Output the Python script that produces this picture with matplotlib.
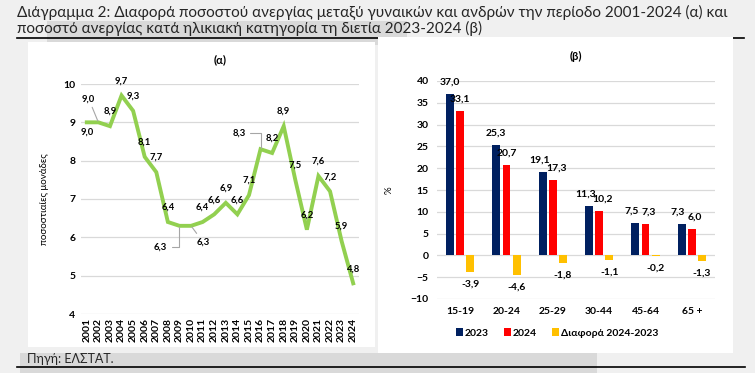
import matplotlib
matplotlib.use("Agg")
import matplotlib.pyplot as plt
from matplotlib.patches import Rectangle
from matplotlib.lines import Line2D
import numpy as np

plt.rcParams['font.family'] = ['Lato', 'DejaVu Sans']

# --- data (a): difference in unemployment rate women vs men, 2001-2024
years = [str(y) for y in range(2001, 2025)]
gap_values = [9.0, 9.0, 8.9, 9.7, 9.3, 8.1, 7.7, 6.4, 6.3, 6.3, 6.4, 6.6,
              6.9, 6.6, 7.1, 8.3, 8.2, 8.9, 7.5, 6.2, 7.6, 7.2, 5.9, 4.8]

# --- data (b): unemployment rate by age group
age_groups = ['15-19', '20-24', '25-29', '30-44', '45-64', '65 +']
rate_2023 = [37.0, 25.3, 19.1, 11.3, 7.5, 7.3]
rate_2024 = [33.1, 20.7, 17.3, 10.2, 7.3, 6.0]
rate_diff = [-3.9, -4.6, -1.8, -1.1, -0.2, -1.3]

W, H = 755, 373
fig = plt.figure(figsize=(W / 100, H / 100), dpi=100, facecolor='#f0f0f0')


def px_rect(x0, y0, x1, y1, color, z):
    # pixel box (top-left origin) -> figure fraction rectangle
    fig.add_artist(Rectangle((x0 / W, 1 - y1 / H), (x1 - x0) / W, (y1 - y0) / H,
                             transform=fig.transFigure, facecolor=color,
                             edgecolor='none', zorder=z))


def px_hline(x0, x1, y, z):
    fig.add_artist(Line2D([x0 / W, x1 / W], [1 - y / H, 1 - y / H],
                          transform=fig.transFigure, color='black', lw=1.2, zorder=z))


# background bits of the page
px_rect(47, 21, 407, 45, '#d9d9d9', -5)
px_rect(20, 353, 597, 373, '#d9d9d9', -5)
px_hline(17, 744, 37.5, -4)
px_hline(17, 745, 367, -4)
px_rect(28, 42, 375, 347, 'white', -3)
px_rect(378, 37, 733, 353, 'white', -3)

fig.text(17 / W, 1 - 12 / H,
         'Διάγραμμα 2: Διαφορά ποσοστού ανεργίας μεταξύ γυναικών και ανδρών την περίοδο 2001-2024 (α) και',
         fontsize=11, color='#262626', va='center', ha='left')
fig.text(17 / W, 1 - 28 / H,
         'ποσοστό ανεργίας κατά ηλικιακή κατηγορία τη διετία 2023-2024 (β)',
         fontsize=11, color='#262626', va='center', ha='left')
fig.text(27 / W, 1 - 359 / H, 'Πηγή: ΕΛΣΤΑΤ.', fontsize=9, color='#262626',
         va='center', ha='left')

# ---------------- chart (a)
ax1 = fig.add_axes([81 / W, 59 / H, 278 / W, 230 / H])
ax1.set_facecolor('none')
x = np.arange(len(years))
ax1.plot(x, gap_values, color='#92d050', lw=2.8, solid_joinstyle='miter', zorder=3)
ax1.set_xlim(-0.5, len(years) - 0.5)
ax1.set_ylim(4, 10)
ax1.set_yticks(range(4, 11))
ax1.set_xticks(x)
ax1.set_xticklabels(years, rotation=90, fontsize=7.5, fontweight='bold')
ax1.tick_params(length=0, pad=3)
ax1.tick_params(axis='y', labelsize=7.5, pad=4)
for lab in ax1.get_yticklabels():
    lab.set_fontweight('bold')
ax1.grid(axis='y', color='#d9d9d9', lw=0.9)
ax1.set_axisbelow(True)
for s in ax1.spines.values():
    s.set_visible(False)
ax1.set_ylabel('ποσοστιαίες μονάδες', fontsize=7, labelpad=10)
ax1.set_title('(α)', fontsize=8, fontweight='bold', pad=15)

# special label placements with leader lines (offsets in points)
leaders = {1: ((-7, 17), 'arc3'),
           8: ((-13.5, -15), 'angle,angleA=0,angleB=90,rad=0'),
           9: ((8.5, -11.5), 'arc3'),
           15: ((-15, 11.5), 'angle,angleA=0,angleB=90,rad=0')}
for i, v in enumerate(gap_values):
    txt = f'{v:.1f}'.replace('.', ',')
    if i in leaders:
        off, conn = leaders[i]
        ax1.annotate(txt, (i, v), xytext=off, textcoords='offset points',
                     ha='center', va='center', fontsize=6.8, fontweight='bold',
                     arrowprops=dict(arrowstyle='-', color='#a6a6a6', lw=0.8,
                                     shrinkA=1, shrinkB=1, connectionstyle=conn))
    else:
        dy = -7 if i == 0 else 10.5
        ax1.annotate(txt, (i, v), xytext=(0, dy), textcoords='offset points',
                     ha='center', va='center', fontsize=6.8, fontweight='bold')

# ---------------- chart (b)
ax2 = fig.add_axes([437 / W, 74 / H, 278 / W, 218 / H])
ax2.set_facecolor('none')
g = np.arange(len(age_groups))
bw, step = 0.17, 0.22
b1 = ax2.bar(g - step, rate_2023, bw, color='#002060', label='2023', zorder=3)
b2 = ax2.bar(g, rate_2024, bw, color='#ff0000', label='2024', zorder=3)
b3 = ax2.bar(g + step, rate_diff, bw, color='#ffc000', label='Διαφορά 2024-2023', zorder=3)
ax2.set_xlim(-0.5, len(age_groups) - 0.5)
ax2.set_ylim(-10, 40)
ax2.set_yticks(range(-10, 41, 5))
ax2.set_xticks(g)
ax2.set_xticklabels(age_groups, fontsize=7.5, fontweight='bold')
ax2.tick_params(length=0, pad=6)
ax2.tick_params(axis='y', labelsize=7.5, pad=6)
for lab in ax2.get_yticklabels():
    lab.set_fontweight('bold')
ax2.grid(axis='y', color='#d9d9d9', lw=0.9)
ax2.set_axisbelow(True)
for s in ax2.spines.values():
    s.set_visible(False)
ax2.set_ylabel('%', fontsize=7, labelpad=12)
ax2.set_title('(β)', fontsize=8, fontweight='bold', pad=15)

for k, (bars, vals) in enumerate(((b1, rate_2023), (b2, rate_2024), (b3, rate_diff))):
    for j, (rect, v) in enumerate(zip(bars, vals)):
        cx = rect.get_x() + rect.get_width() / 2
        dy = 8.5 if v >= 0 else -8.5
        dx = 0
        # pull apart 2023/2024 labels that sit at nearly the same height
        if k < 2 and abs(rate_2023[j] - rate_2024[j]) < 2:
            dx = -2.5 if k == 0 else 2.5
        ax2.annotate(f'{v:.1f}'.replace('.', ','), (cx, v), xytext=(dx, dy),
                     textcoords='offset points', ha='center', va='center',
                     fontsize=7.5, fontweight='bold')

leg = fig.legend(handles=[b1, b2, b3], loc='center', bbox_to_anchor=(557 / W, 1 - 333 / H),
                 ncol=3, frameon=False, fontsize=7.5, handlelength=0.7, handleheight=0.7,
                 handletextpad=0.2, columnspacing=1.4)
for t in leg.get_texts():
    t.set_fontweight('bold')

fig.savefig('out.png', dpi=100, facecolor=fig.get_facecolor())
